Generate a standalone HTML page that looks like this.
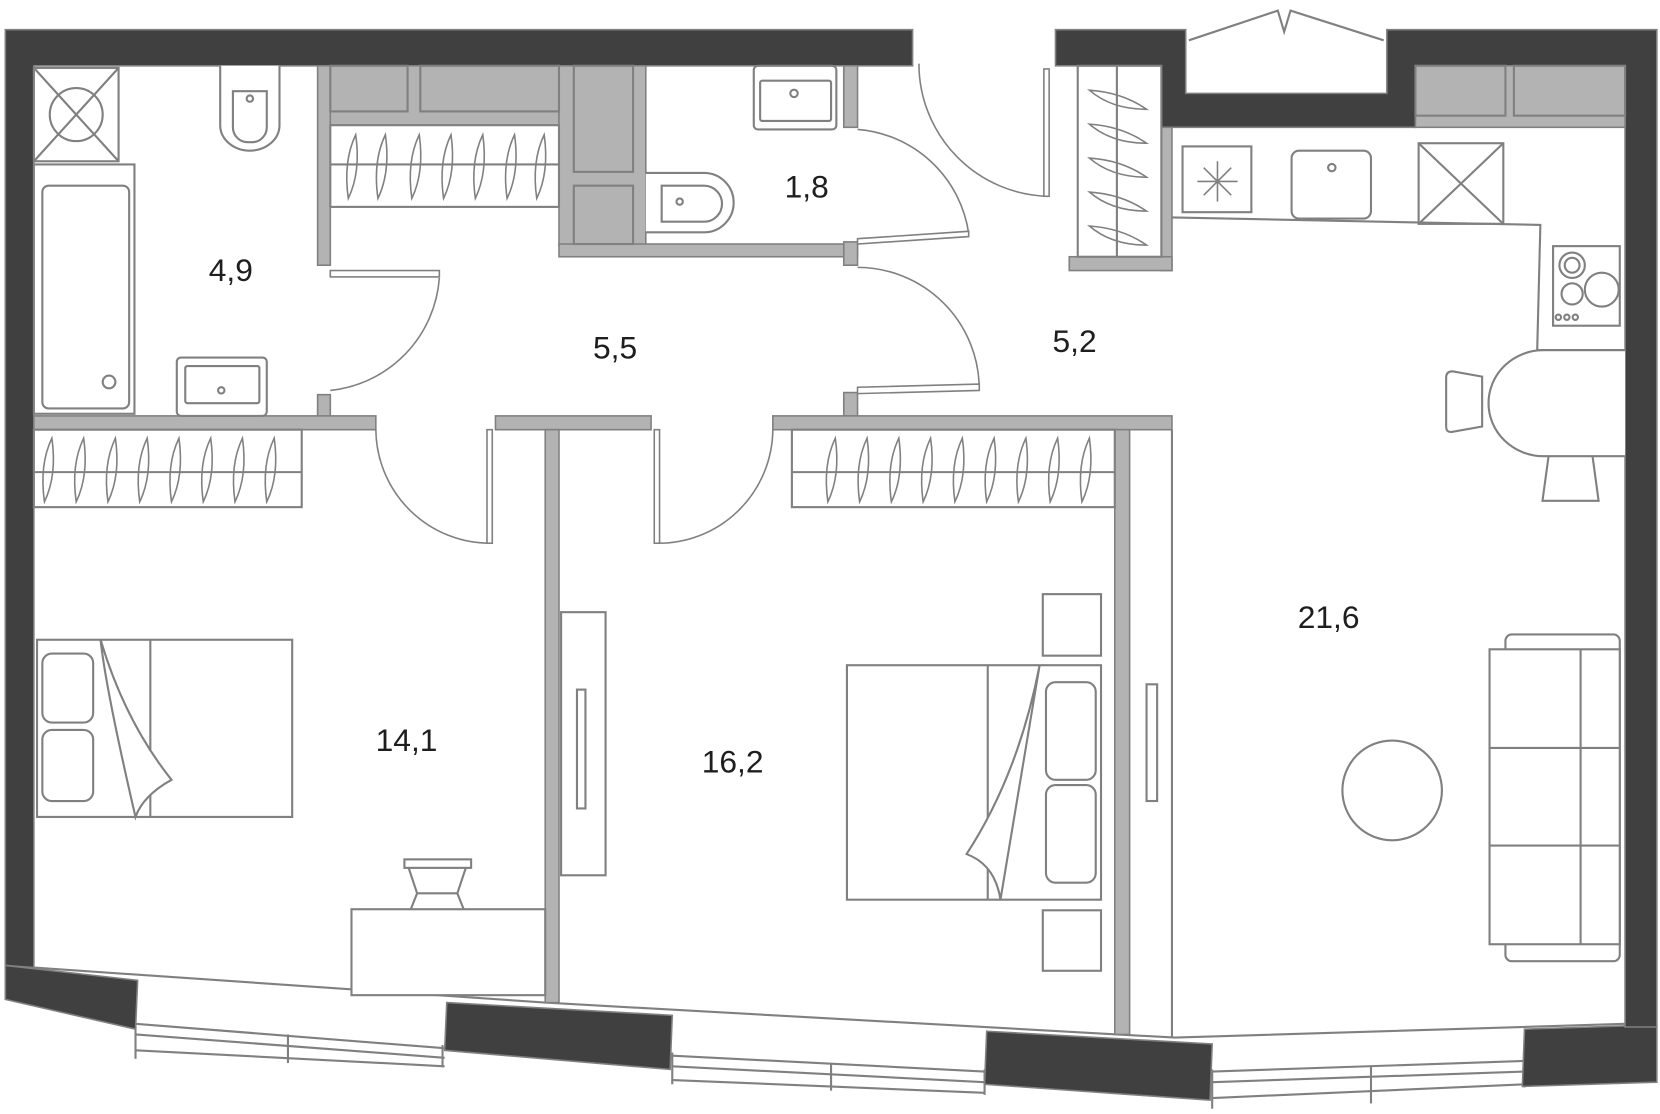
<!DOCTYPE html>
<html><head><meta charset="utf-8"><style>
html,body{margin:0;padding:0;background:#fff}
svg{display:block}
text{font-family:"Liberation Sans",sans-serif;font-size:30px;fill:#1e1e1e;text-anchor:middle}
</style></head><body>
<svg width="1660" height="1114" viewBox="0 0 1568 1050" preserveAspectRatio="none" xmlns="http://www.w3.org/2000/svg">
<g fill="none" stroke="#808080" stroke-width="2">
<polyline points="32,912 515,945 1110,978 1535,965"/>
<polyline points="128,965 420,988"/><polyline points="128,975 420,997"/><polyline points="128,990 420,1005"/>
<line x1="128" y1="960" x2="128" y2="998"/><line x1="272" y1="975" x2="272" y2="1002"/><line x1="418" y1="985" x2="418" y2="1006"/>
<polyline points="635,995 930,1010"/><polyline points="635,1005 930,1020"/><polyline points="635,1018 930,1030"/>
<line x1="635" y1="992" x2="635" y2="1022"/><line x1="785" y1="1002" x2="785" y2="1028"/><line x1="930" y1="1008" x2="930" y2="1032"/>
<polyline points="1145,1010 1440,1000"/><polyline points="1145,1020 1440,1010"/><polyline points="1145,1035 1440,1022"/>
<line x1="1145" y1="1008" x2="1145" y2="1045"/><line x1="1295" y1="1005" x2="1295" y2="1040"/><line x1="1440" y1="998" x2="1440" y2="1025"/>
</g>
<g fill="#404040" stroke="#808080" stroke-width="1.5">
<path d="M5,28 H862 V62 H32 V912 L5,910 Z"/>
<path d="M5,910 L130,924 L128,970 L5,942 Z"/>
<path d="M422,945 L635,957 L633,1008 L420,990 Z"/>
<path d="M932,972 L1145,984 L1143,1037 L930,1022 Z"/>
<path d="M1440,970 L1565,966 L1565,1020 L1438,1024 Z"/>
<path d="M997,28 H1120 V88 H1310 V28 H1565 V968 H1535 V62 H1337 V120 H1097 V62 H997 Z"/>
</g>
<polyline points="1123,38 1207,10 1213,30 1219,10 1307,38" fill="none" stroke="#808080" stroke-width="2"/>
<g fill="#b3b3b3" stroke="#808080" stroke-width="1.5">
<rect x="300" y="62" width="12" height="188"/>
<rect x="300" y="372" width="12" height="22"/>
<rect x="312" y="62" width="216" height="56"/>
<rect x="528" y="62" width="82" height="170"/>
<rect x="528" y="230" width="282" height="12"/>
<rect x="797" y="62" width="13" height="58"/>
<rect x="797" y="228" width="13" height="22"/>
<rect x="797" y="370" width="13" height="22"/>
<rect x="32" y="392" width="323" height="13"/>
<rect x="468" y="392" width="147" height="13"/>
<rect x="730" y="392" width="377" height="13"/>
<rect x="515" y="405" width="13" height="540"/>
<rect x="1053" y="405" width="14" height="570"/>
<rect x="1097" y="120" width="10" height="135"/>
<rect x="1010" y="242" width="97" height="13"/>
<rect x="1337" y="62" width="198" height="58"/>
</g>
<g fill="#b3b3b3" stroke="#808080" stroke-width="2">
<rect x="312" y="62" width="73" height="43"/><rect x="397" y="62" width="131" height="43"/>
<rect x="542" y="62" width="56" height="100"/><rect x="542" y="175" width="56" height="55"/>
<rect x="1337" y="62" width="85" height="47"/><rect x="1430" y="62" width="105" height="47"/>
</g>
<g fill="#fff" stroke="#808080" stroke-width="2">
<rect x="312" y="118" width="216" height="77"/><line x1="312" y1="155" x2="528" y2="155"/>
<rect x="32" y="405" width="253" height="73"/><line x1="32" y1="445" x2="285" y2="445"/>
<rect x="748" y="405" width="305" height="73"/><line x1="748" y1="445" x2="1053" y2="445"/>
<rect x="1018" y="62" width="79" height="180"/><line x1="1055" y1="62" x2="1055" y2="242"/>
<rect x="32" y="64" width="80" height="88"/>
<line x1="32" y1="64" x2="112" y2="152"/><line x1="112" y1="64" x2="32" y2="152"/>
<circle cx="72" cy="108" r="25" fill="none"/>
<rect x="32" y="155" width="95" height="235"/>
<rect x="40" y="175" width="82" height="210" rx="6"/>
<circle cx="103" cy="360" r="6"/>
<path d="M208,62 V118 A28,24 0 0 0 264,118 V62"/>
<path d="M220,86 H252 V120 A14,14 0 0 1 238,134 H234 A14,14 0 0 1 220,120 Z"/>
<circle cx="236" cy="93" r="3"/>
<rect x="167" y="337" width="85" height="55" rx="4"/>
<rect x="175" y="345" width="70" height="35" rx="2"/>
<circle cx="209" cy="368" r="3"/>
<rect x="712" y="62" width="78" height="60" rx="4"/>
<rect x="718" y="76" width="67" height="38" rx="2"/>
<circle cx="750" cy="88" r="3.5"/>
<path d="M610,163 H665 A28,28 0 0 1 665,219 H610"/>
<path d="M625,175 H665 A16,16 0 0 1 665,209 H625 Z"/>
<circle cx="642" cy="190" r="3"/>
<rect x="1117" y="138" width="65" height="62"/>
<rect x="1220" y="142" width="75" height="64" rx="7"/>
<circle cx="1258" cy="158" r="3.5"/>
<rect x="1340" y="135" width="80" height="76"/>
<line x1="1340" y1="135" x2="1420" y2="211"/><line x1="1420" y1="135" x2="1340" y2="211"/>
<rect x="1467" y="232" width="63" height="75"/>
<circle cx="1485" cy="250" r="12"/><circle cx="1485" cy="250" r="7"/>
<circle cx="1485" cy="277" r="10"/><circle cx="1513" cy="273" r="16"/>
<circle cx="1472" cy="299" r="2.5"/><circle cx="1480" cy="299" r="2.5"/><circle cx="1488" cy="299" r="2.5"/>
<path d="M1400,355 L1372,350 Q1366,350 1366,356 V402 Q1366,408 1372,407 L1400,402 Z"/>
<path d="M1463,428 L1457,472 H1510 L1504,428"/>
<path d="M1535,330 H1458 A52,50 0 0 0 1458,430 H1535"/>
<rect x="1422" y="598" width="108" height="308" rx="6"/>
<rect x="1407" y="612" width="123" height="278"/>
<line x1="1493" y1="612" x2="1493" y2="890"/>
<line x1="1407" y1="705" x2="1530" y2="705"/><line x1="1407" y1="797" x2="1530" y2="797"/>
<circle cx="1315" cy="745" r="47"/>
<rect x="35" y="603" width="241" height="167"/>
<line x1="142" y1="603" x2="142" y2="770"/>
<rect x="40" y="616" width="48" height="65" rx="9"/>
<rect x="40" y="688" width="48" height="67" rx="9"/>
<path d="M95,603 Q100,650 128,770 Q135,750 162,735 Q118,680 95,603 Z"/>
<rect x="332" y="857" width="183" height="81"/>
<rect x="382" y="810" width="63" height="8"/>
<path d="M386,818 L394,842 L388,857 M440,818 L432,842 L438,857 M394,842 H432"/>
<rect x="530" y="577" width="42" height="248"/>
<rect x="545" y="650" width="8" height="112"/>
<rect x="1083" y="645" width="10" height="110"/>
<rect x="800" y="627" width="240" height="221"/>
<line x1="933" y1="627" x2="933" y2="848"/>
<rect x="988" y="643" width="47" height="92" rx="9"/>
<rect x="988" y="740" width="47" height="92" rx="9"/>
<path d="M982,627 Q970,700 945,848 Q940,815 913,805 Q962,730 982,627 Z"/>
<rect x="985" y="560" width="55" height="58"/>
<rect x="985" y="858" width="55" height="57"/>
<polyline points="1107,205 1455,212 1452,330 1535,330" fill="none"/>
<line x1="1107" y1="405" x2="1107" y2="978"/>
</g>
<g fill="none" stroke="#808080" stroke-width="1.5">
<path id="hv" d="M4,-30 Q-8,-5 -3,30 Q9,5 4,-30 Z" transform="translate(332,157)"/>
<use href="#hv" x="28"/><use href="#hv" x="60"/><use href="#hv" x="90"/><use href="#hv" x="120"/><use href="#hv" x="150"/><use href="#hv" x="178"/>
<path id="hv2" d="M4,-30 Q-8,-5 -3,30 Q9,5 4,-30 Z" transform="translate(45,443)"/>
<use href="#hv2" x="30"/><use href="#hv2" x="60"/><use href="#hv2" x="90"/><use href="#hv2" x="120"/><use href="#hv2" x="150"/><use href="#hv2" x="180"/><use href="#hv2" x="210"/>
<path id="hv3" d="M4,-30 Q-8,-5 -3,30 Q9,5 4,-30 Z" transform="translate(785,443)"/>
<use href="#hv3" x="30"/><use href="#hv3" x="60"/><use href="#hv3" x="90"/><use href="#hv3" x="120"/><use href="#hv3" x="150"/><use href="#hv3" x="180"/><use href="#hv3" x="210"/><use href="#hv3" x="240"/>
<path id="hh" d="M-26,-10 Q5,-8 28,8 Q-5,8 -26,-10 Z" transform="translate(1055,95)"/>
<use href="#hh" y="32"/><use href="#hh" y="64"/><use href="#hh" y="96"/><use href="#hh" y="128"/>
<path d="M1150,152 V190 M1131,171 H1169 M1137,158 L1163,184 M1163,158 L1137,184"/>
<path d="M415,262 A115,115 0 0 1 312,368"/>
<path d="M810,122 A115,115 0 0 1 915,220"/>
<path d="M810,252 A115,115 0 0 1 925,366"/>
<path d="M868,60 A125,125 0 0 0 990,185"/>
<path d="M355,405 A108,108 0 0 0 463,512"/>
<path d="M730,405 A108,108 0 0 1 620,512"/>
</g>
<g fill="#fff" stroke="#808080" stroke-width="1.5">
<rect x="312" y="255" width="103" height="6"/>
<path d="M810,225 L915,218 L915,223 L810,230 Z"/>
<path d="M810,365 L925,362 L925,368 L810,371 Z"/>
<rect x="986" y="65" width="5" height="120"/>
<rect x="460" y="405" width="5" height="107"/>
<rect x="618" y="405" width="5" height="107"/>
</g>
<text x="218" y="265">4,9</text>
<text x="762" y="186">1,8</text>
<text x="581" y="338">5,5</text>
<text x="1015" y="332">5,2</text>
<text x="1255" y="592">21,6</text>
<text x="384" y="708">14,1</text>
<text x="692" y="728">16,2</text>
</svg>
</body></html>
